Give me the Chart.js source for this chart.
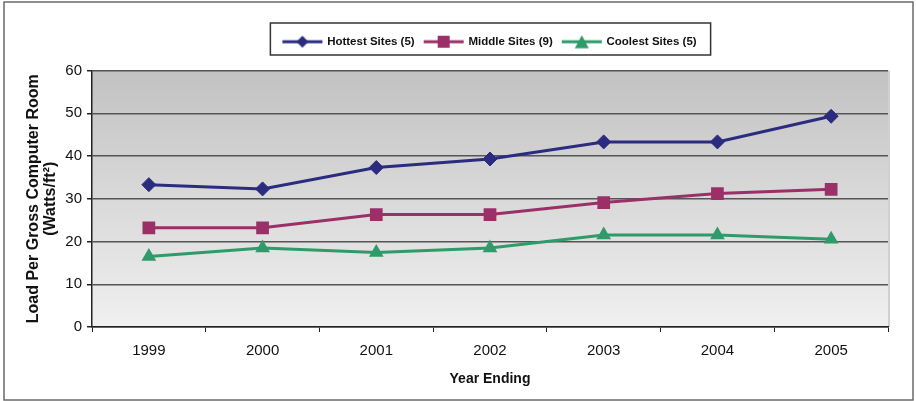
<!DOCTYPE html>
<html>
<head>
<meta charset="utf-8">
<script src="https://cdn.jsdelivr.net/npm/chart.js@4/dist/chart.umd.min.js"></script>
<style>
  html, body { margin: 0; padding: 0; background: #fff; }
  #wrap { position: relative; width: 916px; height: 401px; }
</style>
</head>
<body>
<div id="wrap"><canvas id="load-chart" width="916" height="401"></canvas></div>
<script>
/* ── Data ───────────────────────────────────────────────────────── */
const years   = ['1999', '2000', '2001', '2002', '2003', '2004', '2005'];
const hottest = [33.3, 32.3, 37.3, 39.3, 43.3, 43.3, 49.3];
const middle  = [23.2, 23.2, 26.3, 26.3, 29.1, 31.2, 32.2];
const coolest = [16.5, 18.5, 17.4, 18.5, 21.5, 21.5, 20.5];
const yTicks  = [0, 10, 20, 30, 40, 50, 60];

const FONT = '"Liberation Sans", Arial, sans-serif';
const NAVY = '#2b2c7f', PLUM = '#9b3068', SEA = '#2f9a6a';

/* ── Legend icons: short line with the series marker on it ──────── */
function legendIcon(color, shape) {
  const c = document.createElement('canvas');
  c.width = 42; c.height = 16;
  const g = c.getContext('2d');
  g.strokeStyle = color; g.fillStyle = color; g.lineWidth = 3;
  g.beginPath(); g.moveTo(1, 8); g.lineTo(41, 8); g.stroke();
  g.beginPath();
  if (shape === 'diamond') {
    g.moveTo(21, 2); g.lineTo(27, 8); g.lineTo(21, 14); g.lineTo(15, 8);
  } else if (shape === 'square') {
    g.rect(15, 2, 12, 12);
  } else {
    g.moveTo(21, 1.5); g.lineTo(28, 14.5); g.lineTo(14, 14.5);
  }
  g.closePath(); g.fill();
  return c;
}
const icons = [legendIcon(NAVY, 'diamond'), legendIcon(PLUM, 'square'), legendIcon(SEA, 'triangle')];

/* ── Plot background, frame and legend box ──────────────────────── */
const framePlugin = {
  id: 'frame',
  beforeDraw(chart) {
    const { ctx, chartArea: a } = chart;
    const grad = ctx.createLinearGradient(0, a.top, 0, a.bottom);
    grad.addColorStop(0, '#c2c2c2');
    grad.addColorStop(1, '#eff0ef');
    ctx.save();
    ctx.fillStyle = grad;
    ctx.fillRect(a.left, a.top, a.right - a.left, a.bottom - a.top);
    ctx.strokeStyle = '#d0d0d0'; ctx.lineWidth = 2;
    ctx.beginPath(); ctx.moveTo(a.right + 1, a.top); ctx.lineTo(a.right + 1, a.bottom); ctx.stroke();
    ctx.restore();
  },
  afterDraw(chart) {
    const { ctx } = chart;
    ctx.save();
    ctx.strokeStyle = '#6a6a6a'; ctx.lineWidth = 1.5;
    ctx.strokeRect(4, 2, 909, 398);
    const boxes = chart.legend.legendHitBoxes;
    if (boxes && boxes.length) {
      const l = Math.min(...boxes.map(b => b.left)) - 13;
      const r = Math.max(...boxes.map(b => b.left + b.width)) + 14;
      ctx.strokeStyle = '#333'; ctx.lineWidth = 1.5;
      ctx.strokeRect(l, 23, r - l, 32);
    }
    ctx.restore();
  }
};

new Chart(document.getElementById('load-chart'), {
  type: 'line',
  data: {
    labels: years,
    datasets: [
      { label: 'Hottest Sites (5)', data: hottest, borderColor: NAVY, backgroundColor: NAVY,
        pointStyle: 'rectRot', pointRadius: 7, pointBorderWidth: 1 },
      { label: 'Middle Sites (9)', data: middle, borderColor: PLUM, backgroundColor: PLUM,
        pointStyle: 'rect', pointRadius: 9, pointBorderWidth: 0 },
      { label: 'Coolest Sites (5)', data: coolest, borderColor: SEA, backgroundColor: SEA,
        pointStyle: 'triangle', pointRadius: 8.5, pointBorderWidth: 0 },
    ].map(d => Object.assign(d, { borderWidth: 3, tension: 0, fill: false }))
  },
  options: {
    responsive: false, animation: false, devicePixelRatio: 1,
    layout: { padding: { left: 10, right: 28, top: 26, bottom: 9 } },
    plugins: {
      tooltip: { enabled: false },
      legend: {
        position: 'top', fullSize: false,
        labels: {
          usePointStyle: true, pointStyleWidth: 38, padding: 10,
          color: '#111', font: { family: FONT, size: 11.5, weight: 'bold' },
          generateLabels: chart => chart.data.datasets.map((d, i) => ({
            text: d.label, pointStyle: icons[i], datasetIndex: i,
            fillStyle: d.borderColor, strokeStyle: d.borderColor, lineWidth: 0, fontColor: '#111'
          }))
        }
      },
      subtitle: { display: true, text: '', weight: 100, font: { size: 1, lineHeight: 1 },
                  padding: { top: 12, bottom: 0 } }
    },
    scales: {
      x: {
        offset: true,
        grid: { display: true, drawOnChartArea: false, drawTicks: true, tickLength: 5, color: '#222', offset: true },
        border: { display: true, color: '#222', width: 1.5 },
        ticks: { color: '#111', font: { family: FONT, size: 15 }, padding: 10, maxRotation: 0 },
        title: { display: true, text: 'Year Ending', color: '#111',
                 font: { family: FONT, size: 14, weight: 'bold' }, padding: { top: 4 } },
        afterFit: s => { s.height = 65; }
      },
      y: {
        min: 0, max: 60,
        afterBuildTicks: s => { s.ticks = yTicks.map(v => ({ value: v })); },
        grid: { color: '#555', lineWidth: 1.5, tickLength: 5, tickColor: '#222' },
        border: { display: true, color: '#222', width: 1.5 },
        ticks: { color: '#111', font: { family: FONT, size: 15 }, padding: 5 },
        title: { display: true, text: ['Load Per Gross Computer Room', '(Watts/ft²)'], color: '#111',
                 font: { family: FONT, size: 16, weight: 'bold', lineHeight: 1.05 }, padding: { top: 15, bottom: 0 } },
        afterFit: s => { s.width = 82; }
      }
    }
  },
  plugins: [framePlugin]
});
</script>
</body>
</html>
